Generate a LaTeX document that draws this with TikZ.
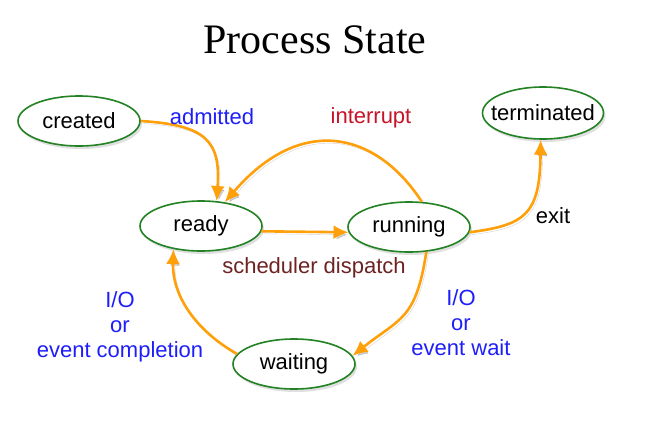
\documentclass[tikz,border=0pt]{standalone}
\usepackage{fontspec}
\setsansfont{Liberation Sans}
\newfontfamily\titlefont{Liberation Serif}
\usetikzlibrary{shapes.geometric,arrows.meta,shadows}
\definecolor{stgreen}{RGB}{35,130,35}
\definecolor{arrorange}{RGB}{255,160,10}
\definecolor{lblblue}{RGB}{30,30,250}
\definecolor{lblred}{RGB}{200,20,40}
\definecolor{lblbrown}{RGB}{110,35,35}
\tikzset{
  state/.style={ellipse, draw=stgreen, line width=1.6pt, fill=white,
    minimum width=122pt, minimum height=50pt, inner sep=0pt,
    font=\sffamily\fontsize{22}{25}\selectfont,
    drop shadow={shadow xshift=2pt, shadow yshift=-3pt, opacity=0.25}},
  trans/.style={draw=arrorange, line width=2.6pt,
    -{Latex[length=15pt,width=14pt]},
    preaction={draw=black, opacity=0.18, transform canvas={shift={(2pt,-2.5pt)}}}},
  lbl/.style={font=\sffamily\fontsize{22}{25}\selectfont, align=center},
}
\begin{document}
\begin{tikzpicture}[x=1pt,y=-1pt]
\path[use as bounding box, fill=white] (0,0) rectangle (649,426);

\node[font=\titlefont\fontsize{42}{44}\selectfont] (title) at (315,40) {Process State};

\node[state] (created) at (79,121) {created};
\node[state] (ready) at (201,226) {ready};
\node[state] (running) at (409,227) {running};
\node[state, inner xsep=-18pt, minimum width=121pt, minimum height=52pt] (terminated) at (543,113) {terminated};
\node[state] (waiting) at (294,364) {waiting};

\draw[trans] (created.east) .. controls (205,125) and (221,140) .. (ready.58);
\draw[trans] (running.63) .. controls (375,130) and (300,115) .. (ready.45);
\draw[trans] (ready.-5) -- (running.185);
\draw[trans] (running.-5) .. controls (525,225) and (540,215) .. (terminated.-95);
\draw[trans] (running.-55) .. controls (416,320) and (400,318) .. (waiting.8);
\draw[trans] (waiting.170) .. controls (195,330) and (172,295) .. (ready.-140);

\node[lbl, text=lblblue] (admitted) at (212,117) {admitted};
\node[lbl, text=lblred] (interrupt) at (371,118) {interrupt};
\node[lbl, text=black] (exit) at (553,216) {exit};
\node[lbl, text=lblbrown] (dispatch) at (314,268) {scheduler dispatch};
\node[lbl, text=lblblue] (iocomp) at (120,327) {I/O\\or\\event completion};
\node[lbl, text=lblblue] (iowait) at (461,323) {I/O\\or\\event wait};
\end{tikzpicture}
\end{document}
